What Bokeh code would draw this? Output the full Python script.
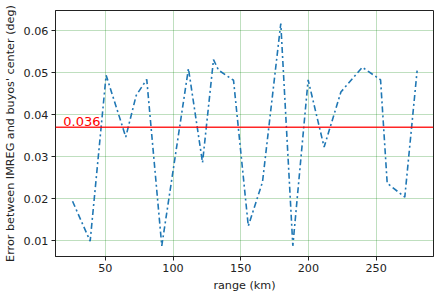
from bokeh.plotting import figure
from bokeh.models import FixedTicker, PrintfTickFormatter, Range1d, Span, Label
from bokeh.embed import file_html
from bokeh.resources import INLINE

range_km = [25.8, 38.8, 50.6, 65.1, 72.8, 80.6, 91.7, 111.4, 121.8, 129.9, 133.6, 144.7,
            155.6, 166.1, 179.6, 188.5, 199.8, 211.6, 224.0, 239.8, 253.3, 258.2, 271.2, 280.3]
error_deg = [0.0194, 0.0099, 0.0494, 0.0347, 0.0446, 0.0484, 0.0088, 0.0510, 0.0286, 0.0531, 0.0506, 0.0482,
             0.0135, 0.0240, 0.0617, 0.0088, 0.0483, 0.0323, 0.0454, 0.0513, 0.0483, 0.0237, 0.0204, 0.0505]
mean_error = 0.037
mean_label = "0.036"
x_ticks = [50, 100, 150, 200, 250]
y_ticks = [0.01, 0.02, 0.03, 0.04, 0.05, 0.06]

FONT = "DejaVu Sans"

p = figure(width=437, height=295, output_backend="svg", toolbar_location=None,
           x_range=Range1d(13.2, 292.4), y_range=Range1d(0.00626, 0.0648),
           min_border_left=55, min_border_right=4, min_border_top=10, min_border_bottom=39)
p.background_fill_color = "white"
p.border_fill_color = "white"
p.outline_line_color = "#222222"
p.outline_line_width = 1

for ax in (p.xaxis[0], p.yaxis[0]):
    ax.axis_line_color = "#222222"
    ax.major_tick_in = 0
    ax.major_tick_out = 4
    ax.minor_tick_line_color = None
    ax.major_tick_line_color = "#222222"
    ax.major_label_text_font = FONT
    ax.major_label_text_font_size = "11.2px"
    ax.major_label_text_color = "#222222"
    ax.axis_label_text_font = FONT
    ax.axis_label_text_font_size = "11.2px"
    ax.axis_label_text_font_style = "normal"
    ax.axis_label_text_color = "#222222"

p.xaxis[0].ticker = FixedTicker(ticks=x_ticks)
p.yaxis[0].ticker = FixedTicker(ticks=y_ticks)
p.yaxis[0].formatter = PrintfTickFormatter(format="%.2f")
p.xaxis.axis_label = "range (km)"
p.yaxis.axis_label = "Error between IMREG and buyos' center (deg)"
p.xaxis[0].axis_label_standoff = 4
p.yaxis[0].axis_label_standoff = 4
p.xaxis[0].major_label_standoff = 3
p.yaxis[0].major_label_standoff = 3

p.grid.grid_line_color = "green"
p.grid.grid_line_alpha = 0.25
p.grid.grid_line_width = 1

p.line(range_km, error_deg, line_color="#1f77b4", line_width=1.6, line_dash="6 3 2 3")

p.add_layout(Span(location=mean_error, dimension="width", line_color="red",
                  line_width=1.5, line_alpha=0.85))
p.add_layout(Label(x=19, y=mean_error, text=mean_label, text_color="red",
                   text_font=FONT, text_font_size="13px", y_offset=1))

open("out.html", "w").write(file_html(p, INLINE))
